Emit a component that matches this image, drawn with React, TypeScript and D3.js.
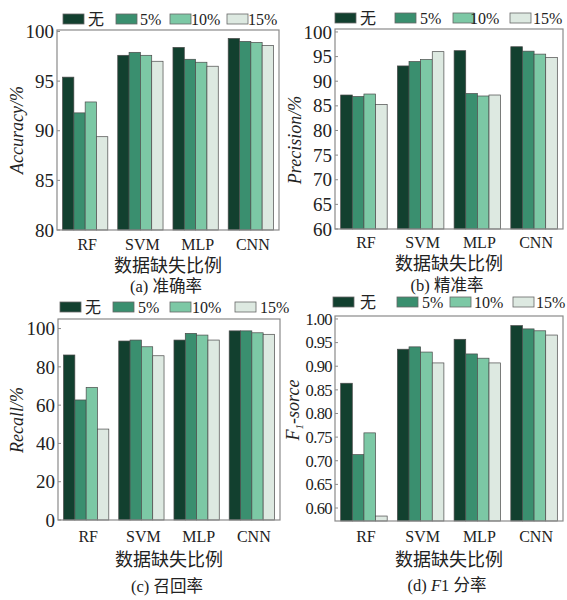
import React from "react";
import * as d3 from "d3";

const categories = ["RF", "SVM", "MLP", "CNN"];
const seriesNames = ["无", "5%", "10%", "15%"];
const seriesColors = ["#12402f", "#3a8f6f", "#7cc8a5", "#dde9e1"];

// values per category, in series order (无, 5%, 10%, 15%)
const accuracy = [
  [95.4, 91.8, 92.9, 89.4],
  [97.6, 97.9, 97.6, 97.0],
  [98.4, 97.2, 96.9, 96.5],
  [99.3, 99.0, 98.9, 98.6],
];
const precision = [
  [87.2, 86.9, 87.4, 85.3],
  [93.1, 94.0, 94.4, 96.0],
  [96.2, 87.5, 87.0, 87.2],
  [97.0, 96.1, 95.5, 94.8],
];
const recall = [
  [86.2, 62.7, 69.3, 47.5],
  [93.5, 94.0, 90.5, 85.8],
  [94.0, 97.5, 96.6, 94.0],
  [98.8, 98.8, 97.8, 97.0],
];
const f1 = [
  [0.864, 0.713, 0.759, 0.583],
  [0.936, 0.941, 0.93, 0.907],
  [0.957, 0.926, 0.917, 0.907],
  [0.986, 0.979, 0.975, 0.966],
];

const accuracyTicks = [80, 85, 90, 95, 100];
const precisionTicks = [60, 65, 70, 75, 80, 85, 90, 95, 100];
const recallTicks = [0, 20, 40, 60, 80, 100];
const f1Ticks = [0.6, 0.65, 0.7, 0.75, 0.8, 0.85, 0.9, 0.95, 1.0];

const xTitle = "数据缺失比例";
const SERIF = "'Liberation Serif', 'Times New Roman', 'Noto Sans CJK SC', serif";
const TXT = "#222";

type PanelProps = {
  data: number[][];
  x0: number;
  x1: number;
  y0: number;
  y1: number;
  domain: [number, number];
  ticks: number[];
  fmt: (v: number) => string;
  tickSize: number;
  legendY: number;
  swatchX: number[];
  textX: number[];
  catY: number;
  titleY: number;
  captionY: number;
  caption: React.ReactNode;
  yLabel: React.ReactNode;
  yLabelX: number;
  yLabelY: number;
};

function Panel(p: PanelProps) {
  const x = d3
    .scaleBand<string>()
    .domain(categories)
    .range([p.x0, p.x1])
    .paddingInner(0.18)
    .paddingOuter(0.1);
  const xs = d3
    .scaleBand<string>()
    .domain(seriesNames)
    .range([0, x.bandwidth()]);
  const y = d3.scaleLinear().domain(p.domain).range([p.y1, p.y0]);
  const midX = (p.x0 + p.x1) / 2;
  return (
    <g>
      {/* legend */}
      {seriesNames.map((s, i) => (
        <g key={s}>
          <rect
            x={p.swatchX[i]}
            y={p.legendY - 5}
            width={21}
            height={10}
            fill={seriesColors[i]}
            stroke="#666"
            strokeWidth={0.8}
          />
          <text
            x={p.textX[i]}
            y={p.legendY + 5.5}
            fontFamily={SERIF}
            fontSize={16}
            fill={TXT}
          >
            {s}
          </text>
        </g>
      ))}
      {/* bars */}
      {categories.map((c, ci) => (
        <g key={c}>
          {seriesNames.map((s, si) => {
            const v = p.data[ci][si];
            const top = y(v);
            return (
              <rect
                key={s}
                x={(x(c) as number) + (xs(s) as number)}
                y={top}
                width={xs.bandwidth()}
                height={p.y1 - top}
                fill={seriesColors[si]}
                stroke="#4a4a4a"
                strokeWidth={0.7}
              />
            );
          })}
        </g>
      ))}
      {/* frame */}
      <rect
        x={p.x0}
        y={p.y0}
        width={p.x1 - p.x0}
        height={p.y1 - p.y0}
        fill="none"
        stroke="#8a8a8a"
        strokeWidth={1.2}
      />
      {/* y ticks */}
      {p.ticks.map((t) => (
        <g key={t}>
          <line
            x1={p.x0}
            x2={p.x0 + 3}
            y1={y(t)}
            y2={y(t)}
            stroke="#8a8a8a"
            strokeWidth={1}
          />
          <text
            x={p.x0 - 3}
            y={y(t)}
            dy="0.35em"
            textAnchor="end"
            fontFamily={SERIF}
            fontSize={p.tickSize}
            fill={TXT}
            letterSpacing={p.tickSize < 17 ? -0.6 : 0}
          >
            {p.fmt(t)}
          </text>
        </g>
      ))}
      {/* category labels */}
      {categories.map((c) => (
        <text
          key={c}
          x={(x(c) as number) + x.bandwidth() / 2 + 2}
          y={p.catY}
          textAnchor="middle"
          fontFamily={SERIF}
          fontSize={16}
          fill={TXT}
        >
          {c}
        </text>
      ))}
      <text
        x={midX}
        y={p.titleY}
        textAnchor="middle"
        fontFamily={SERIF}
        fontSize={18}
        fill={TXT}
      >
        {xTitle}
      </text>
      <text
        x={midX - 2}
        y={p.captionY}
        textAnchor="middle"
        fontFamily={SERIF}
        fontSize={16.5}
        fill={TXT}
      >
        {p.caption}
      </text>
      <text
        transform={`translate(${p.yLabelX},${p.yLabelY}) rotate(-90)`}
        textAnchor="middle"
        dy="0.35em"
        fontFamily={SERIF}
        fontSize={18}
        fontStyle="italic"
        fill={TXT}
      >
        {p.yLabel}
      </text>
    </g>
  );
}

export default function App() {
  const fmtInt = (v: number) => d3.format("d")(v);
  const fmt2 = (v: number) => d3.format(".2f")(v);
  return (
    <svg
      width={567}
      height={600}
      viewBox="0 0 567 600"
      style={{ position: "absolute", left: 0, top: 0, background: "#fff" }}
    >
      <rect x={0} y={0} width={567} height={600} fill="#fff" />
      <Panel
        data={accuracy}
        x0={57}
        x1={279}
        y0={30}
        y1={230}
        domain={[80, 100.15]}
        ticks={accuracyTicks}
        fmt={fmtInt}
        tickSize={19}
        legendY={19}
        swatchX={[63, 116, 170, 227]}
        textX={[88, 140, 191, 248]}
        catY={250}
        titleY={271.5}
        captionY={292}
        caption={<tspan>(a) 准确率</tspan>}
        yLabel="Accuracy/%"
        yLabelX={17}
        yLabelY={130}
      />
      <Panel
        data={precision}
        x0={335}
        x1={563}
        y0={29}
        y1={229}
        domain={[60, 100.6]}
        ticks={precisionTicks}
        fmt={fmtInt}
        tickSize={19}
        legendY={18}
        swatchX={[335, 395, 453, 510]}
        textX={[360, 420, 470, 533]}
        catY={248}
        titleY={269.5}
        captionY={291}
        caption={<tspan>(b) 精准率</tspan>}
        yLabel="Precision/%"
        yLabelX={295}
        yLabelY={140}
      />
      <Panel
        data={recall}
        x0={58}
        x1={280}
        y0={319}
        y1={520}
        domain={[0, 105]}
        ticks={recallTicks}
        fmt={fmtInt}
        tickSize={19}
        legendY={307}
        swatchX={[60, 113, 170, 235]}
        textX={[85, 138, 192, 260]}
        catY={542}
        titleY={566}
        captionY={592}
        caption={<tspan>(c) 召回率</tspan>}
        yLabel="Recall/%"
        yLabelX={17}
        yLabelY={420}
      />
      <Panel
        data={f1}
        x0={335}
        x1={563}
        y0={316}
        y1={521}
        domain={[0.5725, 1.0063]}
        ticks={f1Ticks}
        fmt={fmt2}
        tickSize={16.5}
        legendY={302}
        swatchX={[333, 397, 450, 513]}
        textX={[360, 422, 474, 536]}
        catY={542}
        titleY={566}
        captionY={591}
        caption={
          <>
            <tspan>(d) </tspan>
            <tspan fontStyle="italic">F</tspan>
            <tspan>1 分率</tspan>
          </>
        }
        yLabel={
          <>
            <tspan>F</tspan>
            <tspan fontSize={11} dy={4}>1</tspan>
            <tspan dy={-4}>-sorce</tspan>
          </>
        }
        yLabelX={293}
        yLabelY={410}
      />
    </svg>
  );
}
